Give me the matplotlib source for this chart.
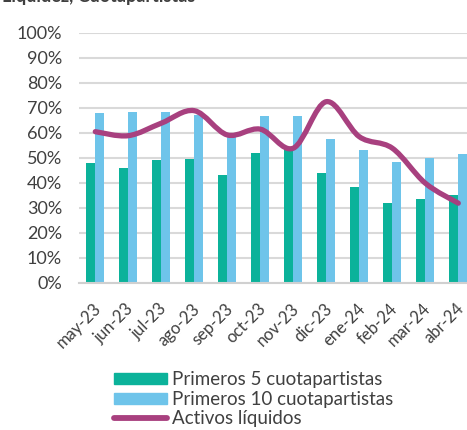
import matplotlib.pyplot as plt
import numpy as np
from matplotlib.path import Path
from matplotlib.patches import PathPatch, Patch
from matplotlib.lines import Line2D
from matplotlib.transforms import ScaledTranslation

plt.rcParams['font.family'] = ['Lato', 'DejaVu Sans']

months = ["may-23", "jun-23", "jul-23", "ago-23", "sep-23", "oct-23",
          "nov-23", "dic-23", "ene-24", "feb-24", "mar-24", "abr-24"]
top5 = [47.8, 45.8, 49.1, 49.5, 43.2, 51.7, 53.5, 44.0, 38.3, 31.7, 33.5, 35.0]
top10 = [68.0, 68.4, 68.1, 67.0, 59.0, 66.5, 66.5, 57.5, 53.1, 48.4, 49.9, 51.5]
liquid = [60.4, 58.8, 63.8, 68.8, 59.1, 61.4, 53.8, 72.4, 58.4, 53.8, 39.8, 31.8]

green = "#0bb29a"
blue = "#6ec4ea"
magenta = "#a8407f"
text_col = "#404040"

fig = plt.figure(figsize=(4.67, 4.30), dpi=100)
ax = fig.add_axes([0.1687, 0.3426, 0.8480, 0.5814])

x = np.arange(len(months))
w = 0.27
ax.bar(x - w / 2, top5, width=w, color=green, zorder=2)
ax.bar(x + w / 2, top10, width=w, color=blue, zorder=2)

# smooth line (Catmull-Rom as bezier segments)
pts = np.column_stack([x, liquid]).astype(float)
ext = np.vstack([pts[0], pts, pts[-1]])
verts = [pts[0]]
codes = [Path.MOVETO]
for i in range(len(pts) - 1):
    p0, p1, p2, p3 = ext[i], ext[i + 1], ext[i + 2], ext[i + 3]
    verts += [p1 + (p2 - p0) / 6, p2 - (p3 - p1) / 6, p2]
    codes += [Path.CURVE4] * 3
ax.add_patch(PathPatch(Path(verts, codes), facecolor="none", edgecolor=magenta,
                       lw=3.8, capstyle="round", joinstyle="round", zorder=3))

ax.set_xlim(-0.5, len(months) - 0.5)
ax.set_ylim(0, 100)
ax.set_yticks(np.arange(0, 101, 10))
ax.set_yticklabels([f"{v}%" for v in range(0, 101, 10)])
ax.set_xticks(x)
ax.set_xticklabels(months, rotation=45, ha="right", va="center",
                   rotation_mode="anchor")
ax.tick_params(length=0, colors=text_col)
ax.tick_params(axis="x", labelsize=12, pad=17)
ax.tick_params(axis="y", labelsize=13, pad=12)
for lab in ax.get_xticklabels():
    lab.set_transform(lab.get_transform() + ScaledTranslation(0.03, 0, fig.dpi_scale_trans))
ax.yaxis.grid(True, color="#d9d9d9", lw=1.5, zorder=0)
ax.set_axisbelow(True)
for s in ["top", "right", "left"]:
    ax.spines[s].set_visible(False)
ax.spines["bottom"].set_color("#d0d0d0")
ax.spines["bottom"].set_linewidth(1.5)

handles = [Patch(color=green), Patch(color=blue),
           Line2D([0], [0], color=magenta, lw=4.2, solid_capstyle="round")]
labels = ["Primeros 5 cuotapartistas", "Primeros 10 cuotapartistas", "Activos líquidos"]
fig.legend(handles, labels, loc="upper left", bbox_to_anchor=(0.225, 0.158),
           frameon=False, fontsize=13.5, handlelength=2.8, handleheight=0.55,
           handletextpad=0.25, labelspacing=0.13, borderpad=0,
           labelcolor=text_col)

fig.text(0.005, 1 - 2 / 430, "Liquidez, Cuotapartistas", fontsize=13,
         fontweight="bold", color=text_col, va="baseline")

fig.savefig("out.png", dpi=100)
